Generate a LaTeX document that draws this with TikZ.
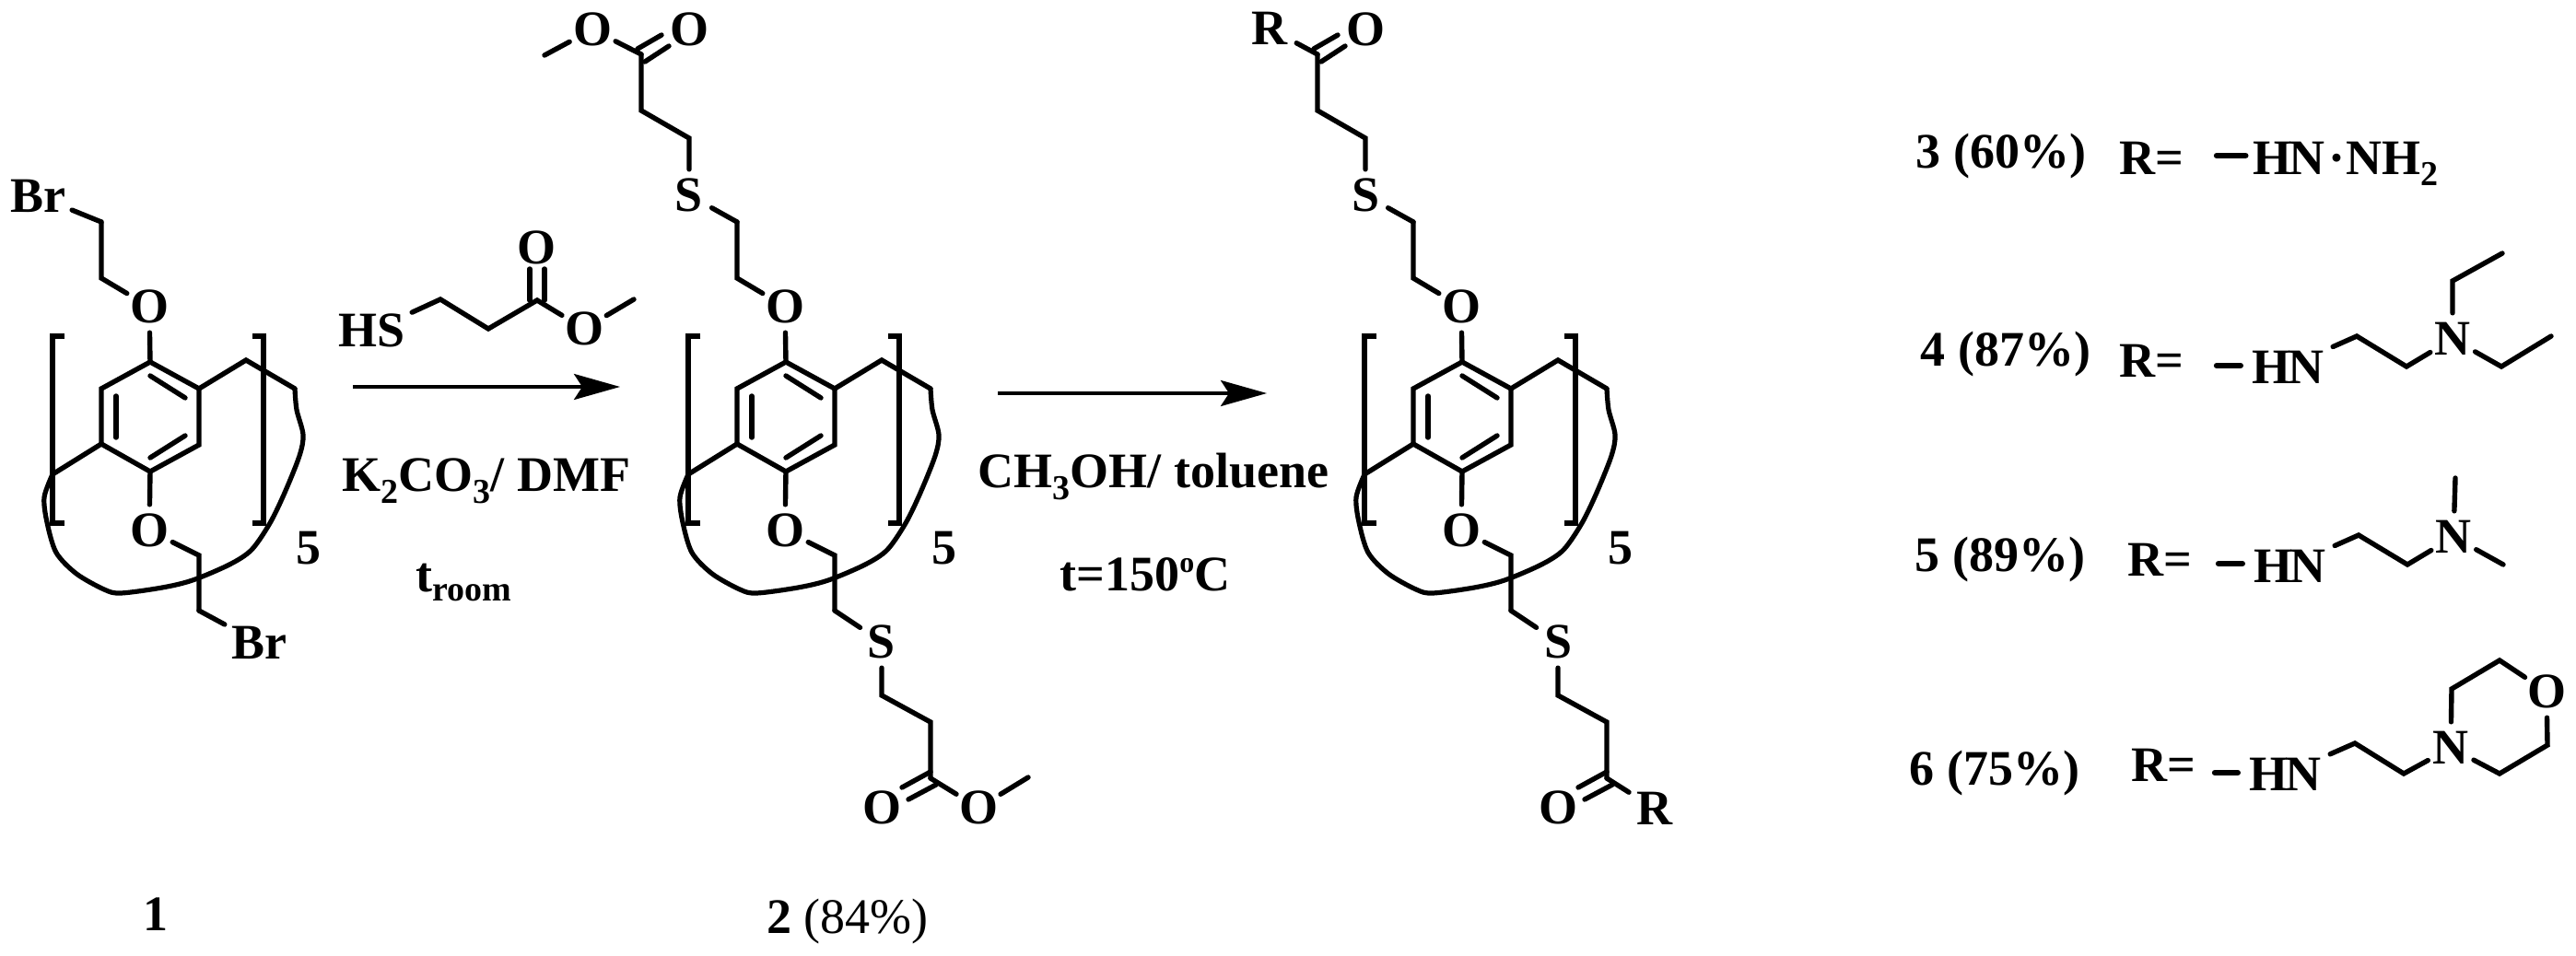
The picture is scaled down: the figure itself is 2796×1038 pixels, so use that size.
\documentclass[tikz,border=0pt]{standalone}
\usepackage{fontspec}
\setmainfont{Liberation Serif}
\usetikzlibrary{arrows.meta}
\newcommand{\chemlow}[2][38]{\raisebox{-13pt}{\fontsize{#1}{#1}\selectfont #2}}
\tikzset{
  bond/.style={line width=5.4pt,line cap=round,line join=miter},
  dashbond/.style={line width=6.4pt,line cap=round},
  loopline/.style={line width=5.2pt,line cap=round,line join=round},
  bracketline/.style={line width=6pt,line cap=butt,line join=miter},
  rxn/.style={line width=3.6pt,-{Stealth[length=50pt,width=28pt,inset=9pt]}},
  atom/.style={circle,inner sep=0pt,minimum size=56pt,font=\fontsize{54}{54}\selectfont\bfseries},
  ratom/.style={circle,inner sep=0pt,minimum size=66pt,font=\fontsize{54}{54}\selectfont\bfseries},
  group/.style={rectangle,inner sep=7pt,font=\fontsize{54}{54}\selectfont\bfseries},
  lab/.style={anchor=base,inner sep=0pt,font=\fontsize{54}{54}\selectfont\bfseries},
  hn/.style={anchor=base,inner sep=10pt,font=\fontsize{54}{54}\selectfont\bfseries},
}
% calixarene repeat unit, given in the frame of the right-hand molecule
\newcommand{\calixunit}[2]{%
\begin{scope}[shift={(#2,0)}]
  \coordinate (#1-a) at (1587,393);
  \coordinate (#1-b) at (1640,422);
  \coordinate (#1-c) at (1640,483);
  \coordinate (#1-d) at (1587,512);
  \coordinate (#1-e) at (1534,482);
  \coordinate (#1-f) at (1534,422);
  \coordinate (#1-i1) at (1587,408);
  \coordinate (#1-i2) at (1625,432);
  \coordinate (#1-i3) at (1550,430);
  \coordinate (#1-i4) at (1550,475);
  \coordinate (#1-i5) at (1587,497);
  \coordinate (#1-i6) at (1625,473);
  \coordinate (#1-g) at (1691,391);
  \coordinate (#1-h) at (1744,422);
  \coordinate (#1-j) at (1481,515);
  \coordinate (#1-ta) at (1534,241);
  \coordinate (#1-tb) at (1534,302);
  \coordinate (#1-ua) at (1640,603);
  \coordinate (#1-ub) at (1640,663);
  \node[atom] (#1-O1) at (1586,333) {O};
  \node[atom] (#1-O2) at (1586,576) {O};
  \draw[bond] (#1-a) -- (#1-b) -- (#1-c) -- (#1-d) -- (#1-e) -- (#1-f) -- cycle;
  \draw[bond] (#1-i1) -- (#1-i2);
  \draw[bond] (#1-i3) -- (#1-i4);
  \draw[bond] (#1-i5) -- (#1-i6);
  \draw[bond] (#1-O1) -- (#1-a);
  \draw[bond] (#1-O2) -- (#1-d);
  \draw[bond] (#1-b) -- (#1-g) -- (#1-h);
  \draw[bond] (#1-e) -- (#1-j);
  \draw[bond] (#1-O1) -- (#1-tb) -- (#1-ta);
  \draw[bond] (#1-O2) -- (#1-ua) -- (#1-ub);
  \draw[loopline] plot[smooth,tension=.5] coordinates {(1744,422) (1746,445) (1753,472) (1749,495) (1733,535) (1717,568) (1697,597) (1673,613) (1633,630) (1600,638) (1555,644) (1537,640) (1507,623) (1485,600) (1475,567) (1472,540) (1481,515)};
  \draw[bracketline] (1494,365) -- (1481,365) -- (1481,568) -- (1494,568);
  \draw[bracketline] (1698,365) -- (1710,365) -- (1710,568) -- (1698,568);
  \node[lab] (#1-n) at (1759,612) {5};
\end{scope}}
% thioether arms shared by the second and third molecule
\newcommand{\thioarms}[2]{%
\begin{scope}[shift={(#2,0)}]
  \node[atom] (#1-S1) at (1482,212) {S};
  \node[atom] (#1-S2) at (1691,697) {S};
  \coordinate (#1-va) at (1482,150);
  \coordinate (#1-vb) at (1430,120);
  \coordinate (#1-vc) at (1430,59);
  \coordinate (#1-wa) at (1691,755);
  \coordinate (#1-wb) at (1744,784);
  \coordinate (#1-wc) at (1744,845);
  \draw[bond] (#1-ta) -- (#1-S1);
  \draw[bond] (#1-S1) -- (#1-va) -- (#1-vb) -- (#1-vc);
  \draw[bond] (#1-ub) -- (#1-S2);
  \draw[bond] (#1-S2) -- (#1-wa) -- (#1-wb) -- (#1-wc);
  \coordinate (#1-d1) at (1426,53);
  \coordinate (#1-d2) at (1452,38);
  \coordinate (#1-d3) at (1434,67);
  \coordinate (#1-d4) at (1460,50);
  \draw[bond] (#1-d1) -- (#1-d2);
  \draw[bond] (#1-d3) -- (#1-d4);
  \coordinate (#1-e1) at (1744,838);
  \coordinate (#1-e2) at (1713,855);
  \coordinate (#1-e3) at (1750,852);
  \coordinate (#1-e4) at (1720,868);
  \draw[bond] (#1-e1) -- (#1-e2);
  \draw[bond] (#1-e3) -- (#1-e4);
  \node[atom] (#1-O3) at (1482,32) {O};
  \node[atom] (#1-O4) at (1691,877) {O};
\end{scope}}
\begin{document}
\begin{tikzpicture}[x=1pt,y=-1pt]
\useasboundingbox (0,0) rectangle (2796,1038);
%---------- compound 1
\calixunit{m1}{-1424}
\node[group] (br1) at (41,213) {Br};
\node[group] (br2) at (281,698) {Br};
\draw[bond] (m1-ta) -- (br1);
\draw[bond] (m1-ub) -- (br2);
\node[lab] (n1) at (169,1010) {1};
%---------- thiol reagent
\node[group] (hs) at (404,359) {HS};
\node[atom] (ro1) at (582,269) {O};
\node[atom] (ro2) at (634,357) {O};
\coordinate (rc1) at (478,325);
\coordinate (rc2) at (530,357);
\coordinate (rc3) at (583,326);
\coordinate (rc4) at (688,325);
\coordinate (rd1) at (575,326);
\coordinate (rd2) at (575,292);
\coordinate (rd3) at (591,326);
\coordinate (rd4) at (591,292);
\draw[bond] (hs) -- (rc1) -- (rc2) -- (rc3) -- (ro2);
\draw[bond] (ro2) -- (rc4);
\draw[bond] (rd1) -- (rd2);
\draw[bond] (rd3) -- (rd4);
%---------- first arrow
\coordinate (a1s) at (383,420);
\coordinate (a1e) at (673,420);
\draw[rxn] (a1s) -- (a1e);
\node[lab] (c1a) at (528,533) {K\chemlow{2}CO\chemlow{3}/ DMF};
\node[lab] (c1b) at (503,642) {t\raisebox{-10pt}{\fontsize{38}{38}\selectfont room}};
%---------- compound 2
\calixunit{m2}{-734}
\thioarms{m2}{-734}
\node[atom] (m2-Oa) at (643,32) {O};
\node[atom] (m2-Ob) at (1062,877) {O};
\coordinate (m2-me1) at (591,60);
\coordinate (m2-me2) at (1116,844);
\draw[bond] (m2-vc) -- (m2-Oa) -- (m2-me1);
\draw[bond] (m2-wc) -- (m2-Ob) -- (m2-me2);
\node[lab] (n2) at (920,1013) {2\ \mdseries(84\%)};
%---------- second arrow
\coordinate (a2s) at (1083,427);
\coordinate (a2e) at (1375,427);
\draw[rxn] (a2s) -- (a2e);
\node[lab] (c2a) at (1252,529) {CH\chemlow{3}OH/ toluene};
\node[lab] (c2b) at (1243,641) {t=150\raisebox{20pt}{\fontsize{32}{32}\selectfont o}C};
%---------- products
\calixunit{m3}{0}
\thioarms{m3}{0}
\node[ratom] (m3-Ra) at (1378,31) {R};
\node[ratom] (m3-Rb) at (1796,878) {R};
\draw[bond] (m3-vc) -- (m3-Ra);
\draw[bond] (m3-wc) -- (m3-Rb);
%---------- substituents: row 3
\node[lab] (t3) at (2172,182) {3 (60\%)};
\node[lab] (r3) at (2335,189) {R=};
\node[hn] (h3) at (2546,189) {H\kern-3pt N\kern4pt ·\kern1pt NH\chemlow{2}};
\coordinate (d3) at (2406,169);
\draw[dashbond] (d3) -- ([xshift=2pt]d3 -| h3.west);
%---------- row 4
\node[lab] (t4) at (2177,397) {4 (87\%)};
\node[lab] (r4) at (2335,409) {R=};
\node[hn] (h4) at (2483,416) {H\kern-3pt N};
\coordinate (d4) at (2406,397);
\draw[dashbond] (d4) -- ([xshift=-2pt]d4 -| h4.west);
\node[atom] (n4) at (2662,368) {N};
\coordinate (p4a) at (2558,365);
\coordinate (p4b) at (2612,398);
\coordinate (p4c) at (2662,305);
\coordinate (p4d) at (2716,275);
\coordinate (p4e) at (2715,398);
\coordinate (p4f) at (2769,365);
\draw[bond] (h4) -- (p4a) -- (p4b) -- (n4);
\draw[bond] (n4) -- (p4c) -- (p4d);
\draw[bond] (n4) -- (p4e) -- (p4f);
%---------- row 5
\node[lab] (t5) at (2171,620) {5 (89\%)};
\node[lab] (r5) at (2344,625) {R=};
\node[hn] (h5) at (2485,632) {H\kern-3pt N};
\coordinate (d5) at (2408,612);
\draw[dashbond] (d5) -- ([xshift=-2pt]d5 -| h5.west);
\node[atom] (n5) at (2663,583) {N};
\coordinate (p5a) at (2560,581);
\coordinate (p5b) at (2613,613);
\coordinate (p5c) at (2665,519);
\coordinate (p5d) at (2717,613);
\draw[bond] (h5) -- (p5a) -- (p5b) -- (n5);
\draw[bond] (n5) -- (p5c);
\draw[bond] (n5) -- (p5d);
%---------- row 6
\node[lab] (t6) at (2165,852) {6 (75\%)};
\node[lab] (r6) at (2348,848) {R=};
\node[hn] (h6) at (2480,858) {H\kern-3pt N};
\coordinate (d6) at (2404,839);
\draw[dashbond] (d6) -- ([xshift=-2pt]d6 -| h6.west);
\node[atom] (n6) at (2660,812) {N};
\node[atom] (o6) at (2764,751) {O};
\coordinate (p6a) at (2556,807);
\coordinate (p6b) at (2609,840);
\coordinate (p6c) at (2661,748);
\coordinate (p6d) at (2713,717);
\coordinate (p6e) at (2765,809);
\coordinate (p6f) at (2713,840);
\draw[bond] (h6) -- (p6a) -- (p6b) -- (n6);
\draw[bond] (n6) -- (p6c) -- (p6d) -- (o6);
\draw[bond] (o6) -- (p6e) -- (p6f) -- (n6);
\end{tikzpicture}
\end{document}
